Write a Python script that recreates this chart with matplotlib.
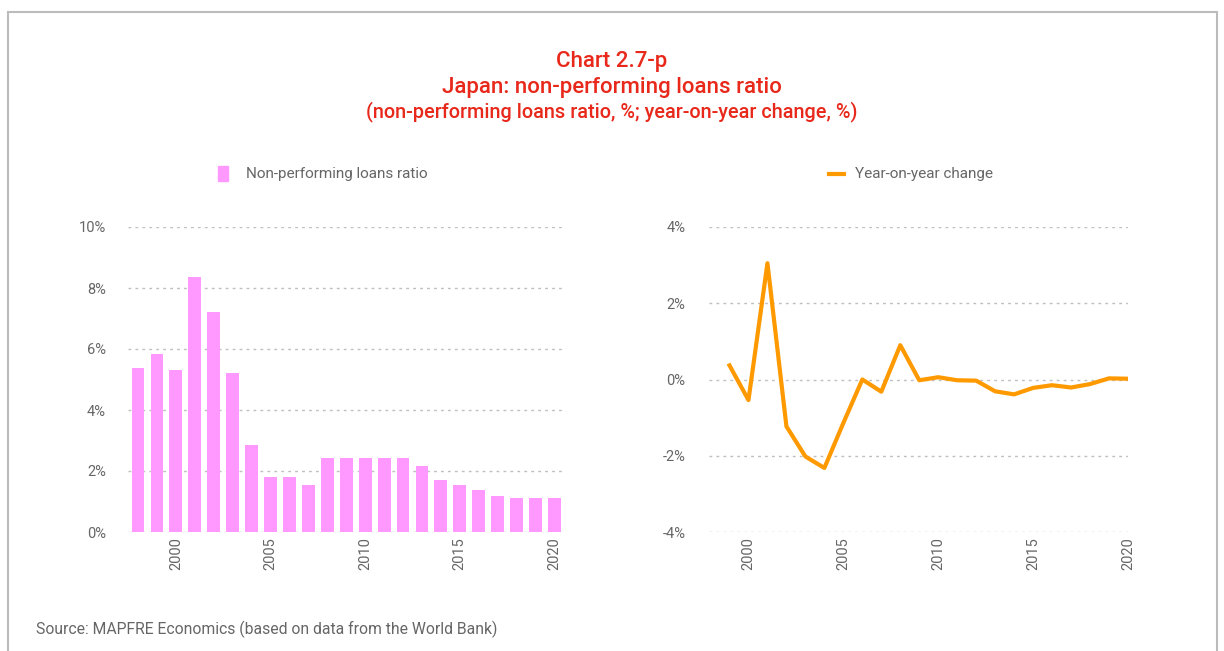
import matplotlib
matplotlib.use('Agg')
import matplotlib.pyplot as plt
import numpy as np
from matplotlib.patches import Rectangle
from matplotlib.lines import Line2D
from matplotlib.ticker import FuncFormatter

# Данные
years_npl = list(range(1998, 2021))
npl_ratio = [5.38, 5.84, 5.31, 8.37, 7.22, 5.21, 2.85, 1.80, 1.80, 1.53, 2.42, 2.42,
             2.42, 2.42, 2.42, 2.16, 1.70, 1.53, 1.37, 1.17, 1.11, 1.11, 1.11]

years_chg = list(range(1999, 2021))
yoy_change = [0.37, -0.54, 3.05, -1.23, -2.02, -2.32, -1.14, 0.0, -0.32, 0.90, -0.02,
              0.06, -0.02, -0.03, -0.31, -0.39, -0.22, -0.15, -0.21, -0.12, 0.03, 0.02]

pink = '#FF99FF'
orange = '#FF9900'
red = '#E8281A'
grey_text = '#666666'
grid_col = '#BFBFBF'

plt.rcParams['font.family'] = ['Roboto', 'DejaVu Sans']

W, H = 1224, 651
fig = plt.figure(figsize=(W / 100, H / 100), dpi=100)

# Рамка
fig.patches.append(Rectangle((8 / W, -0.05), (1217 - 8) / W, 1.05 - 12 / H,
                             transform=fig.transFigure, fill=False,
                             edgecolor='#BBBBBB', linewidth=1.5))

# Заголовки
fig.text(0.5, 1 - 62 / H, 'Chart 2.7-p', color=red, fontsize=16, ha='center',
         va='center', fontweight='medium')
fig.text(0.5, 1 - 88 / H, 'Japan: non-performing loans ratio', color=red, fontsize=16,
         ha='center', va='center', fontweight='medium')
fig.text(0.5, 1 - 112 / H, '(non-performing loans ratio, %; year-on-year change, %)',
         color=red, fontsize=14.3, ha='center', va='center', fontweight='medium')


def style_axis(ax):
    for s in ax.spines.values():
        s.set_visible(False)
    ax.grid(axis='y', linestyle=(0, (2, 3)), color=grid_col, linewidth=1)
    ax.set_axisbelow(True)
    ax.tick_params(axis='both', length=0, colors=grey_text, labelsize=10.5)
    ax.tick_params(axis='y', pad=16)
    ax.set_xticks([2000, 2005, 2010, 2015, 2020])
    for lab in ax.get_xticklabels():
        lab.set_rotation(90)


# Левый график - столбцы
ax1 = fig.add_axes([128 / W, 1 - 532 / H, (563 - 128) / W, (532 - 227) / H])
ax1.bar(years_npl, npl_ratio, width=0.68, color=pink)
ax1.set_xlim(1997.47, 2020.45)
ax1.set_ylim(0, 10)
ax1.set_yticks([0, 2, 4, 6, 8, 10])
ax1.yaxis.set_major_formatter(FuncFormatter(lambda v, p: f'{v:.0f}%'))
style_axis(ax1)

# Правый график - линия
ax2 = fig.add_axes([709 / W, 1 - 532 / H, (1128 - 709) / W, (532 - 227) / H])
ax2.plot(years_chg, yoy_change, color=orange, linewidth=3)
ax2.set_xlim(1997.92, 2020)
ax2.set_ylim(-4, 4)
ax2.set_yticks([-4, -2, 0, 2, 4])
ax2.yaxis.set_major_formatter(FuncFormatter(lambda v, p: f'{v:.0f}%'))
style_axis(ax2)
ax2.tick_params(axis='y', pad=17)

# Легенды
fig.patches.append(Rectangle((218 / W, 1 - 181 / H), 10 / W, 15 / H,
                             transform=fig.transFigure, color=pink))
fig.text(246 / W, 1 - 174 / H, 'Non-performing loans ratio', color=grey_text,
         fontsize=11, va='center')
fig.lines.append(Line2D([829 / W, 844 / W], [1 - 174 / H, 1 - 174 / H],
                        transform=fig.transFigure, color=orange, linewidth=3))
fig.text(855 / W, 1 - 174 / H, 'Year-on-year change', color=grey_text,
         fontsize=11, va='center')

# Источник
fig.text(36 / W, 1 - 629 / H, 'Source: MAPFRE Economics (based on data from the World Bank)',
         color=grey_text, fontsize=11.3, va='center')

plt.savefig('out.png', dpi=100)
plt.close()
